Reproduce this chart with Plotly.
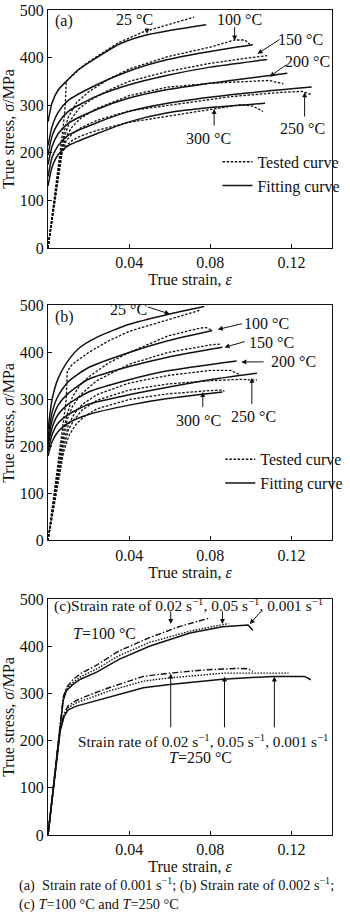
import plotly.graph_objects as go

FONT = "Liberation Serif"
INK = "#111111"

# ---------------- Panel (a): strain rate 0.001 s^-1 ----------------
A_FIT_25_X = [0, 0.002, 0.005, 0.009, 0.015, 0.024, 0.035, 0.047, 0.06, 0.078]
A_FIT_25_Y = [265, 305, 332, 350, 375, 400, 428, 446, 457, 469]
A_FIT_100_X = [0, 0.002, 0.005, 0.01, 0.024, 0.04, 0.059, 0.08, 0.101]
A_FIT_100_Y = [215, 255, 285, 310, 343, 372, 396, 413, 427]
A_FIT_150_X = [0, 0.002, 0.005, 0.01, 0.024, 0.04, 0.059, 0.08, 0.108]
A_FIT_150_Y = [195, 235, 262, 287, 319, 343, 363, 380, 396]
A_FIT_200_X = [0, 0.002, 0.005, 0.01, 0.024, 0.04, 0.059, 0.09, 0.118]
A_FIT_200_Y = [175, 213, 240, 262, 291, 315, 333, 352, 367]
A_FIT_250_X = [0, 0.002, 0.005, 0.01, 0.024, 0.04, 0.059, 0.09, 0.13]
A_FIT_250_Y = [150, 190, 215, 237, 263, 287, 304, 322, 338]
A_FIT_300_X = [0, 0.002, 0.005, 0.01, 0.024, 0.04, 0.059, 0.08, 0.107]
A_FIT_300_Y = [130, 170, 196, 215, 240, 265, 284, 295, 304]

A_TEST_25_X = [0, 0.004, 0.0075, 0.0085, 0.009, 0.012, 0.018, 0.024, 0.035, 0.047, 0.06, 0.072]
A_TEST_25_Y = [0, 130, 255, 300, 350, 362, 385, 402, 432, 454, 470, 485]
A_TEST_100_X = [0, 0.0062, 0.008, 0.01, 0.014, 0.02, 0.03, 0.04, 0.059, 0.08, 0.092, 0.097, 0.0995]
A_TEST_100_Y = [0, 200, 245, 275, 305, 328, 355, 376, 402, 422, 437, 437, 428]
A_TEST_150_X = [0, 0.0064, 0.0085, 0.011, 0.015, 0.02, 0.03, 0.04, 0.059, 0.08, 0.1, 0.108]
A_TEST_150_Y = [0, 200, 240, 268, 292, 308, 332, 350, 371, 388, 400, 404]
A_TEST_200_X = [0, 0.0066, 0.009, 0.012, 0.016, 0.024, 0.04, 0.059, 0.08, 0.1, 0.109, 0.116]
A_TEST_200_Y = [0, 200, 235, 255, 272, 293, 320, 338, 346, 350, 352, 345]
A_TEST_250_X = [0, 0.0068, 0.009, 0.012, 0.016, 0.024, 0.04, 0.059, 0.09, 0.115, 0.125, 0.13]
A_TEST_250_Y = [0, 200, 225, 240, 252, 268, 288, 300, 318, 327, 329, 322]
A_TEST_300_X = [0, 0.007, 0.009, 0.012, 0.016, 0.024, 0.04, 0.059, 0.08, 0.095, 0.101, 0.106]
A_TEST_300_Y = [0, 200, 215, 226, 235, 247, 264, 277, 292, 301, 298, 287]

# ---------------- Panel (b): strain rate 0.002 s^-1 ----------------
B_FIT_25_X = [0, 0.002, 0.005, 0.009, 0.015, 0.024, 0.04, 0.059, 0.077]
B_FIT_25_Y = [235, 300, 345, 377, 408, 432, 460, 481, 498]
B_FIT_100_X = [0, 0.002, 0.005, 0.01, 0.02, 0.04, 0.059, 0.081]
B_FIT_100_Y = [220, 272, 308, 338, 368, 400, 425, 447]
B_FIT_150_X = [0, 0.002, 0.005, 0.01, 0.02, 0.04, 0.059, 0.086]
B_FIT_150_Y = [210, 255, 288, 313, 343, 370, 390, 411]
B_FIT_200_X = [0, 0.002, 0.005, 0.01, 0.02, 0.04, 0.059, 0.093]
B_FIT_200_Y = [200, 240, 268, 290, 316, 342, 361, 382]
B_FIT_250_X = [0, 0.002, 0.005, 0.01, 0.02, 0.04, 0.059, 0.08, 0.103]
B_FIT_250_Y = [190, 225, 250, 268, 290, 310, 326, 342, 356]
B_FIT_300_X = [0, 0.002, 0.005, 0.01, 0.02, 0.04, 0.059, 0.086]
B_FIT_300_Y = [180, 210, 232, 250, 268, 288, 302, 316]

B_TEST_25_X = [0, 0.0065, 0.008, 0.009, 0.0095, 0.012, 0.02, 0.03, 0.04, 0.059, 0.075]
B_TEST_25_Y = [0, 215, 260, 300, 360, 375, 400, 425, 445, 470, 490]
B_TEST_100_X = [0, 0.0067, 0.009, 0.012, 0.016, 0.02, 0.03, 0.04, 0.059, 0.075, 0.078, 0.081]
B_TEST_100_Y = [0, 210, 262, 305, 332, 348, 378, 400, 435, 452, 453, 447]
B_TEST_150_X = [0, 0.007, 0.0095, 0.012, 0.016, 0.024, 0.04, 0.059, 0.08, 0.085]
B_TEST_150_Y = [0, 205, 258, 285, 310, 340, 375, 400, 416, 418]
B_TEST_200_X = [0, 0.0072, 0.01, 0.013, 0.017, 0.024, 0.04, 0.059, 0.08, 0.09, 0.094]
B_TEST_200_Y = [0, 200, 245, 270, 290, 310, 335, 351, 362, 362, 354]
B_TEST_250_X = [0, 0.0075, 0.01, 0.013, 0.017, 0.024, 0.04, 0.059, 0.08, 0.095, 0.103]
B_TEST_250_Y = [0, 195, 235, 258, 278, 298, 320, 333, 340, 343, 341]
B_TEST_300_X = [0, 0.0078, 0.0105, 0.014, 0.018, 0.024, 0.04, 0.059, 0.08, 0.085, 0.087]
B_TEST_300_Y = [0, 190, 225, 248, 264, 280, 300, 312, 319, 320, 318]

# ---------------- Panel (c): T = 100 and 250 degC ----------------
C_T100_R0001_X = [0, 0.006, 0.0075, 0.009, 0.012, 0.016, 0.024, 0.035, 0.05, 0.07, 0.086, 0.0986, 0.101]
C_T100_R0001_Y = [0, 230, 285, 305, 318, 330, 345, 372, 400, 428, 441, 445, 434]
C_T100_R005_X = [0, 0.006, 0.0075, 0.009, 0.012, 0.016, 0.024, 0.035, 0.05, 0.07, 0.089]
C_T100_R005_Y = [0, 232, 288, 308, 322, 335, 352, 380, 408, 432, 448]
C_T100_R002_X = [0, 0.006, 0.0075, 0.009, 0.012, 0.016, 0.024, 0.035, 0.05, 0.065, 0.08]
C_T100_R002_Y = [0, 235, 292, 312, 328, 342, 360, 390, 418, 442, 460]
C_T250_R0001_X = [0, 0.006, 0.008, 0.01, 0.014, 0.02, 0.03, 0.047, 0.06, 0.086, 0.111, 0.1265, 0.1296]
C_T250_R0001_Y = [0, 220, 252, 265, 273, 280, 292, 312, 319, 330, 336, 336, 329]
C_T250_R005_X = [0, 0.006, 0.008, 0.01, 0.014, 0.02, 0.03, 0.047, 0.06, 0.087, 0.1, 0.1186]
C_T250_R005_Y = [0, 222, 255, 270, 280, 290, 305, 326, 333, 343, 343, 343]
C_T250_R002_X = [0, 0.006, 0.008, 0.01, 0.014, 0.02, 0.03, 0.047, 0.06, 0.078, 0.094, 0.0986, 0.101]
C_T250_R002_Y = [0, 225, 258, 274, 285, 296, 312, 336, 343, 350, 353, 352, 347]

X_TICKS = [0.04, 0.08, 0.12]
X_TICK_TEXT = ["0.04", "0.08", "0.12"]
Y_TICKS = [0, 100, 200, 300, 400, 500]
Y_TICK_TEXT = ["0", "100", "200", "300", "400", "500"]

TEST_DASH = "2.5px,1.6px"
fig = go.Figure()


def add(x, y, xa, ya, dash="solid", width=1.5, shape="linear", name=None, legend=None):
    fig.add_trace(go.Scatter(
        x=x, y=y, xaxis=xa, yaxis=ya, mode="lines",
        line=dict(color=INK, width=width, dash=dash, shape=shape,
                  smoothing=0.6 if shape == "spline" else None),
        name=name or "", showlegend=name is not None,
        legend=legend if legend else "legend", hoverinfo="skip"))


A_TEST = [(A_TEST_25_X, A_TEST_25_Y), (A_TEST_100_X, A_TEST_100_Y), (A_TEST_150_X, A_TEST_150_Y),
          (A_TEST_200_X, A_TEST_200_Y), (A_TEST_250_X, A_TEST_250_Y), (A_TEST_300_X, A_TEST_300_Y)]
A_FIT = [(A_FIT_25_X, A_FIT_25_Y), (A_FIT_100_X, A_FIT_100_Y), (A_FIT_150_X, A_FIT_150_Y),
         (A_FIT_200_X, A_FIT_200_Y), (A_FIT_250_X, A_FIT_250_Y), (A_FIT_300_X, A_FIT_300_Y)]
B_TEST = [(B_TEST_25_X, B_TEST_25_Y), (B_TEST_100_X, B_TEST_100_Y), (B_TEST_150_X, B_TEST_150_Y),
          (B_TEST_200_X, B_TEST_200_Y), (B_TEST_250_X, B_TEST_250_Y), (B_TEST_300_X, B_TEST_300_Y)]
B_FIT = [(B_FIT_25_X, B_FIT_25_Y), (B_FIT_100_X, B_FIT_100_Y), (B_FIT_150_X, B_FIT_150_Y),
         (B_FIT_200_X, B_FIT_200_Y), (B_FIT_250_X, B_FIT_250_Y), (B_FIT_300_X, B_FIT_300_Y)]

for i, (x, y) in enumerate(A_TEST):
    add(x, y, "x", "y", dash=TEST_DASH, width=1.3, name="Tested curve" if i == 0 else None, legend="legend")
for i, (x, y) in enumerate(A_FIT):
    add(x, y, "x", "y", width=1.5, shape="spline", name="Fitting curve" if i == 0 else None, legend="legend")
for i, (x, y) in enumerate(B_TEST):
    add(x, y, "x2", "y2", dash=TEST_DASH, width=1.3, name="Tested curve" if i == 0 else None, legend="legend2")
for i, (x, y) in enumerate(B_FIT):
    add(x, y, "x2", "y2", width=1.5, shape="spline", name="Fitting curve" if i == 0 else None, legend="legend2")

add(C_T100_R0001_X, C_T100_R0001_Y, "x3", "y3", width=1.5)
add(C_T100_R005_X, C_T100_R005_Y, "x3", "y3", dash="1.5px,1.5px", width=1.4)
add(C_T100_R002_X, C_T100_R002_Y, "x3", "y3", dash="6px,2px,1.5px,2px", width=1.4)
add(C_T250_R0001_X, C_T250_R0001_Y, "x3", "y3", width=1.5)
add(C_T250_R005_X, C_T250_R005_Y, "x3", "y3", dash="1.5px,1.5px", width=1.4)
add(C_T250_R002_X, C_T250_R002_Y, "x3", "y3", dash="6px,2px,1.5px,2px", width=1.4)

TOP, BOT, H = 3, 79, 914
PH = H - TOP - BOT


def dom(top_px, bot_px):
    return [(H - BOT - bot_px) / PH, (H - BOT - top_px) / PH]


def xax(anchor):
    return dict(domain=[0, 1], range=[0, 0.14], anchor=anchor, tickvals=X_TICKS, ticktext=X_TICK_TEXT,
                ticks="inside", ticklen=4, tickcolor=INK, showline=True, mirror=True, linecolor=INK,
                linewidth=1, showgrid=False, zeroline=False,
                tickfont=dict(family=FONT, size=16, color=INK),
                title=dict(text="True strain, <i>ε</i>", font=dict(family=FONT, size=16, color=INK), standoff=0))


def yax(anchor, domain):
    return dict(domain=domain, range=[0, 500], anchor=anchor, tickvals=Y_TICKS, ticktext=Y_TICK_TEXT,
                ticks="inside", ticklen=4, tickcolor=INK, showline=True, mirror=True, linecolor=INK,
                linewidth=1, showgrid=False, zeroline=False,
                tickfont=dict(family=FONT, size=16, color=INK),
                title=dict(text="True stress, <i>σ</i>/MPa", font=dict(family=FONT, size=16, color=INK), standoff=4))


ann = []


def text(s, x, y, ref, xanchor="center", size=16):
    ann.append(dict(text=s, x=x, y=y, xref="x" + ref if ref != "1" else "x", yref="y" + ref if ref != "1" else "y",
                    showarrow=False, xanchor=xanchor, yanchor="middle",
                    font=dict(family=FONT, size=size, color=INK)))


def arrow(x0, y0, x1, y1, ref):
    xr = "x" if ref == "1" else "x" + ref
    yr = "y" if ref == "1" else "y" + ref
    ann.append(dict(text="", x=x1, y=y1, ax=x0, ay=y0, xref=xr, yref=yr, axref=xr, ayref=yr,
                    showarrow=True, arrowhead=2, arrowsize=1, arrowwidth=1, arrowcolor=INK, standoff=0))


# panel (a)
text("(a)", 0.0023, 477, "1", xanchor="left")
text("25 °C", 0.0428, 481, "1")
text("100 °C", 0.0944, 481, "1")
text("150 °C", 0.1247, 437, "1")
text("200 °C", 0.1279, 392, "1")
text("250 °C", 0.1256, 252, "1")
text("300 °C", 0.079, 231, "1")
arrow(0.0488, 465, 0.0488, 450, "1")
arrow(0.092, 467, 0.092, 436, "1")
arrow(0.1149, 440, 0.1033, 408, "1")
arrow(0.1181, 387, 0.1093, 360, "1")
arrow(0.1265, 273, 0.1265, 327, "1")
arrow(0.0819, 254, 0.0819, 292, "1")

# panel (b)
text("(b)", 0.0023, 475, "2", xanchor="left")
text("25 °C", 0.0395, 492, "2")
text("100 °C", 0.1079, 462, "2")
text("150 °C", 0.1102, 422, "2")
text("200 °C", 0.1209, 380, "2")
text("250 °C", 0.1014, 264, "2")
text("300 °C", 0.0744, 255, "2")
arrow(0.0484, 498, 0.06, 482, "2")
arrow(0.0963, 462, 0.0837, 449, "2")
arrow(0.0977, 424, 0.087, 411, "2")
arrow(0.107, 380, 0.0953, 380, "2")
arrow(0.1005, 287, 0.1005, 346, "2")
arrow(0.0763, 281, 0.0763, 316, "2")

# panel (c)
RATES = "Strain rate of 0.02 s<sup>−1</sup>, 0.05 s<sup>−1</sup>, 0.001 s<sup>−1</sup>"
text("(c)" + RATES, 0.0019, 487, "3", xanchor="left", size=15.4)
text("<i>T</i>=100 °C", 0.0112, 426, "3", xanchor="left")
text(RATES, 0.014, 200, "3", xanchor="left", size=15.3)
text("<i>T</i>=250 °C", 0.0753, 164, "3")
arrow(0.0605, 477, 0.0605, 447, "3")
arrow(0.086, 477, 0.086, 447, "3")
arrow(0.1056, 477, 0.0995, 447, "3")
arrow(0.0605, 225, 0.0605, 342, "3")
arrow(0.087, 225, 0.087, 336, "3")
arrow(0.1116, 225, 0.1116, 336, "3")

# caption
ann.append(dict(text="(a)  Strain rate of 0.001 s<sup>−1</sup>; (b) Strain rate of 0.002 s<sup>−1</sup>;",
                xref="paper", yref="paper", x=(15 - 48) / 300, y=(H - BOT - 885) / PH,
                xanchor="left", yanchor="middle", showarrow=False, font=dict(family=FONT, size=14.3, color=INK)))
ann.append(dict(text="(c) <i>T</i>=100 °C and <i>T</i>=250 °C",
                xref="paper", yref="paper", x=(15 - 48) / 300, y=(H - BOT - 905) / PH,
                xanchor="left", yanchor="middle", showarrow=False, font=dict(family=FONT, size=14.3, color=INK)))

leg_font = dict(family=FONT, size=16, color=INK)
fig.update_layout(
    width=350, height=914, margin=dict(l=48, r=2, t=TOP, b=BOT, pad=0),
    paper_bgcolor="white", plot_bgcolor="white",
    font=dict(family=FONT, size=16, color=INK),
    xaxis=xax("y"), yaxis=yax("x", dom(3, 243)),
    xaxis2=xax("y2"), yaxis2=yax("x2", dom(301, 538)),
    xaxis3=xax("y3"), yaxis3=yax("x3", dom(597, 835)),
    annotations=ann,
    legend=dict(x=(227 - 48) / 300, y=(H - BOT - 139) / PH, xanchor="left", yanchor="top",
                bgcolor="rgba(0,0,0,0)", font=leg_font, itemwidth=30, tracegroupgap=0),
    legend2=dict(x=(230 - 48) / 300, y=(H - BOT - 439) / PH, xanchor="left", yanchor="top",
                 bgcolor="rgba(0,0,0,0)", font=leg_font, itemwidth=30, tracegroupgap=0),
)

fig.write_html("out.html")
